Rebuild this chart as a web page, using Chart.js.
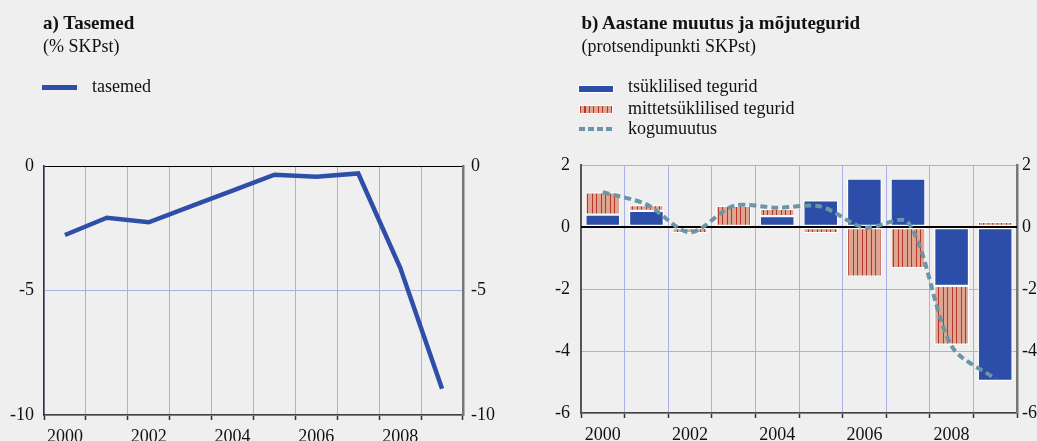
<!DOCTYPE html>
<html><head><meta charset="utf-8">
<script src="https://cdn.jsdelivr.net/npm/chart.js@4"></script>
<style>
html,body{margin:0;padding:0}
body{background:#efefef;width:1037px;height:441px;overflow:hidden;position:relative;font-family:'Liberation Serif','Times New Roman',serif;color:#111}
.t{position:absolute;font-size:18px;line-height:18px;white-space:nowrap}
.b{font-weight:bold;font-size:19px;line-height:19px}
.sw{position:absolute}
canvas{position:absolute;top:0}
</style>
</head><body>
<canvas id="c1" width="520" height="441" style="left:0"></canvas>
<canvas id="c2" width="517" height="441" style="left:520px"></canvas>

<div class="t b" style="left:43px;top:13px">a) Tasemed</div>
<div class="t" style="left:43px;top:36.5px">(% SKPst)</div>
<div class="sw" style="left:42px;top:85px;width:35px;height:5px;background:#2e4fa8"></div>
<div class="t" style="left:92px;top:77px">tasemed</div>

<div class="t b" style="left:581.5px;top:12.5px">b) Aastane muutus ja mõjutegurid</div>
<div class="t" style="left:581.5px;top:36.5px">(protsendipunkti SKPst)</div>
<div class="sw" style="left:579px;top:85.5px;width:34px;height:6px;background:#2c4ea8;box-shadow:0 0 0 1px #fff"></div>
<div class="sw" style="left:580px;top:106px;width:32px;height:7px;background:repeating-linear-gradient(90deg,#b4372c 0 1px,#dea593 1px 4.5px);box-shadow:0 0 0 1px #fff"></div>
<div class="sw" style="left:579px;top:126.5px;width:34px;height:4px;background:repeating-linear-gradient(90deg,#6a96a6 0 6.5px,transparent 6.5px 9px)"></div>
<div class="t" style="left:628px;top:77px">tsüklilised tegurid</div>
<div class="t" style="left:628px;top:98.5px">mittetsüklilised tegurid</div>
<div class="t" style="left:628px;top:119px">kogumuutus</div>

<script>
// ---- data ----
const years = ['2000','2001','2002','2003','2004','2005','2006','2007','2008','2009'];
const levels = [-2.77, -2.08, -2.26, -1.62, -0.99, -0.35, -0.43, -0.30, -4.08, -8.95];
const cyclical = [0.40, 0.52, null, null, 0.35, 0.86, 1.56, 1.56, -1.90, -4.97];
const nonCyclical = [0.72, 0.19, -0.20, 0.68, 0.24, -0.20, -1.60, -1.33, -1.90, 0.17];
const totalChange = [1.12, 0.73, -0.17, 0.68, 0.62, 0.66, -0.02, 0.15, -3.84, -4.90];
const leftRange = [-10, 0, 5];   // min, max, step
const rightRange = [-6, 2, 2];

// ---- styles ----
const FONT = {family: "'Liberation Serif','Times New Roman',serif", size: 18};
const GRID = '#a9b0e6';
const BLUE = '#2c4ea8';

function hatch() {
  const c = document.createElement('canvas');
  c.width = 9; c.height = 4;
  const g = c.getContext('2d');
  g.fillStyle = '#dea593'; g.fillRect(0, 0, 9, 4);
  g.fillStyle = '#b4372c'; g.fillRect(0, 0, 1, 4); g.fillRect(4, 0, 1, 4);
  return g.createPattern(c, 'repeat');
}

function xAxis(h) {
  return {
    type: 'category',
    offset: true,
    grid: {offset: true, color: GRID, lineWidth: 1, drawTicks: true, tickLength: 5, tickColor: '#333', tickWidth: 1.5},
    border: {display: true, color: '#444', width: 1.5},
    ticks: {autoSkip: false, maxRotation: 0, padding: 6, color: '#111', font: FONT,
      callback: function(v, i) { return i % 2 === 0 ? this.getLabelForValue(v) : ''; }},
    afterFit: s => { s.height = h; }
  };
}

function yAxis(range, pos, w, pad, borderColor, borderW, drawGrid, zeroColor, zeroW) {
  return {
    position: pos,
    min: range[0], max: range[1],
    grid: {display: drawGrid, drawTicks: false,
      color: c => (c.tick && c.tick.value === 0) ? zeroColor : GRID,
      lineWidth: c => (c.tick && c.tick.value === 0) ? zeroW : 1},
    border: {display: true, color: borderColor, width: borderW},
    ticks: {stepSize: range[2], padding: pad, color: '#111', font: FONT},
    afterFit: s => { s.width = w; }
  };
}

Chart.defaults.animation = false;

new Chart(document.getElementById('c1'), {
  type: 'line',
  data: {labels: years, datasets: [{
    label: 'tasemed', data: levels, borderColor: '#2e4fa8', borderWidth: 4.5,
    pointRadius: 0, tension: 0, fill: false
  }]},
  options: {
    responsive: false, animation: false,
    layout: {padding: {top: 166, left: 0, right: 0, bottom: 0}},
    plugins: {legend: {display: false}, tooltip: {enabled: false}},
    scales: {
      x: xAxis(26),
      y: yAxis(leftRange, 'left', 44, 10, '#333', 1.5, true, '#000', 1),
      y2: yAxis(leftRange, 'right', 57, 8, '#777', 2.5, false, '#000', 1)
    }
  }
});

const zeroLine = {
  id: 'zeroLine',
  beforeDatasetDraw(chart, args) {
    if (args.meta.type === 'line') {
      const y = chart.scales.y.getPixelForValue(0);
      const ctx = chart.ctx, a = chart.chartArea;
      ctx.save();
      ctx.strokeStyle = '#000'; ctx.lineWidth = 2;
      ctx.beginPath(); ctx.moveTo(a.left, y); ctx.lineTo(a.right, y); ctx.stroke();
      ctx.restore();
    }
  }
};

new Chart(document.getElementById('c2'), {
  type: 'bar',
  data: {labels: years, datasets: [
    {type: 'line', label: 'kogumuutus', data: totalChange, borderColor: '#6a96a6', borderWidth: 4,
      borderDash: [7, 4], pointRadius: 0, tension: 0.3, fill: false, order: 0, stack: 'total'},
    {label: 'tsüklilised tegurid', data: cyclical, backgroundColor: BLUE, borderColor: '#fff',
      borderWidth: 1.2, borderSkipped: false, order: 1, stack: 'bars'},
    {label: 'mittetsüklilised tegurid', data: nonCyclical, backgroundColor: hatch(), borderColor: '#fff',
      borderWidth: 1.2, borderSkipped: false, order: 2, stack: 'bars'}
  ]},
  options: {
    responsive: false, animation: false,
    barPercentage: 0.8, categoryPercentage: 1,
    layout: {padding: {top: 165, left: 0, right: 0, bottom: 0}},
    plugins: {legend: {display: false}, tooltip: {enabled: false}},
    scales: {
      x: Object.assign(xAxis(28), {stacked: true}),
      y: Object.assign(yAxis(rightRange, 'left', 61, 11, '#555', 2, true, '#000', 2), {stacked: true}),
      y2: yAxis(rightRange, 'right', 20, 5, '#777', 2.5, false, '#000', 2)
    }
  },
  plugins: [zeroLine]
});
</script>
</body></html>
